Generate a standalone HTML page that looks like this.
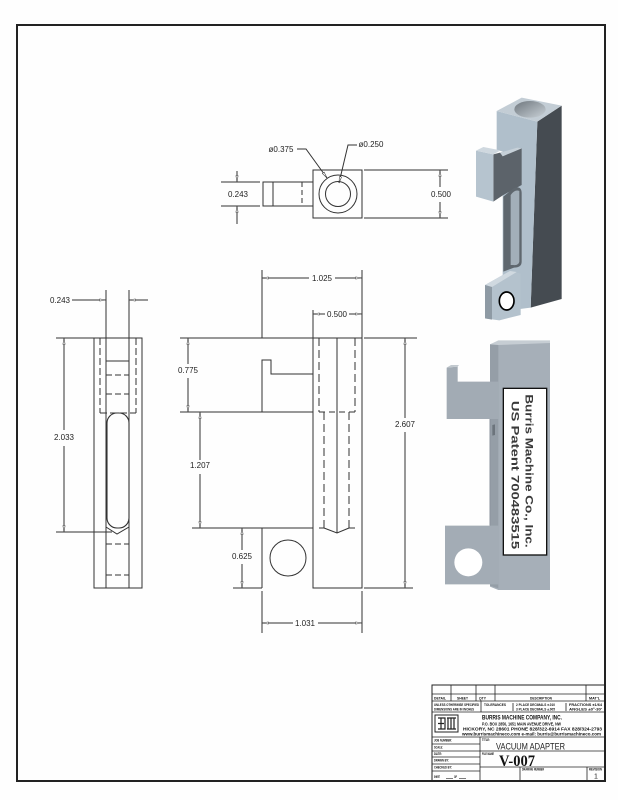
<!DOCTYPE html>
<html>
<head>
<meta charset="utf-8">
<style>
html,body{margin:0;padding:0;background:#fefefe;}
svg{display:block;}
text{font-family:"Liberation Sans",sans-serif;}
</style>
</head>
<body>
<svg width="618" height="800" viewBox="0 0 618 800" xmlns="http://www.w3.org/2000/svg">
<defs>
<marker id="a" viewBox="0 0 8 4" refX="8" refY="2" markerWidth="7" markerHeight="3.2" markerUnits="userSpaceOnUse" orient="auto-start-reverse">
<path d="M0,0.6 L8,2 L0,3.4 Z" fill="#fff" stroke="#333" stroke-width="0.7"/>
</marker>
<linearGradient id="hole1" x1="0" y1="0" x2="1" y2="1">
<stop offset="0" stop-color="#6f777e"/><stop offset="1" stop-color="#c9d1d7"/>
</linearGradient>
</defs>
<rect x="0" y="0" width="618" height="800" fill="#fefefe"/>

<!-- Border -->
<rect x="17" y="25" width="588" height="756" fill="none" stroke="#222" stroke-width="2"/>

<!-- ============ TOP VIEW ============ -->
<g stroke="#333" stroke-width="1" fill="none">
<rect x="313" y="170" width="49" height="48"/>
<circle cx="338" cy="194" r="19"/>
<circle cx="338" cy="194" r="12.5"/>
<rect x="263" y="182" width="50" height="24"/>
<line x1="273" y1="182" x2="273" y2="206"/>
<line x1="302" y1="182" x2="302" y2="206" stroke-dasharray="5,3"/>
<line x1="221" y1="182" x2="260" y2="182"/>
<line x1="221" y1="206" x2="260" y2="206"/>
<line x1="364" y1="170" x2="448" y2="170"/>
<line x1="364" y1="218" x2="448" y2="218"/>
<line x1="237" y1="171" x2="237" y2="182" marker-end="url(#a)"/>
<line x1="237" y1="224" x2="237" y2="206" marker-end="url(#a)"/>
<line x1="440" y1="187" x2="440" y2="170" marker-end="url(#a)"/>
<line x1="440" y1="202" x2="440" y2="218" marker-end="url(#a)"/>
<polyline points="297,149 306,149 327,178" marker-end="url(#a)"/>
<polyline points="357,145 348,145 339,183" marker-end="url(#a)"/>
</g>
<g font-size="8" fill="#222" text-anchor="middle">
<text x="238" y="197">0.243</text>
<text x="441" y="197">0.500</text>
<text x="281" y="152">ø0.375</text>
<text x="371" y="147">ø0.250</text>
</g>

<!-- ============ LEFT VIEW ============ -->
<g stroke="#333" stroke-width="1" fill="none">
<rect x="94" y="338" width="48" height="250"/>
<line x1="106" y1="290" x2="106" y2="588"/>
<line x1="129" y1="290" x2="129" y2="588"/>
<line x1="100" y1="338" x2="100" y2="413" stroke-dasharray="7,3"/>
<line x1="136" y1="338" x2="136" y2="413" stroke-dasharray="7,3"/>
<line x1="100" y1="413" x2="136" y2="413" stroke-dasharray="7,3"/>
<line x1="106" y1="361" x2="129" y2="361"/>
<line x1="106" y1="375" x2="129" y2="375" stroke-dasharray="6,3"/>
<line x1="106" y1="394" x2="129" y2="394" stroke-dasharray="6,3"/>
<rect x="107" y="413" width="22" height="115" rx="10" ry="10" stroke-width="1.1"/>
<polyline points="106,527 117,534 129,527"/>
<line x1="106" y1="544" x2="129" y2="544" stroke-dasharray="6,3"/>
<line x1="106" y1="575" x2="129" y2="575" stroke-dasharray="6,3"/>
<line x1="56" y1="338" x2="94" y2="338"/>
<line x1="56" y1="532" x2="112" y2="532"/>
<line x1="72" y1="300" x2="106" y2="300" marker-end="url(#a)"/>
<line x1="148" y1="300" x2="129" y2="300" marker-end="url(#a)"/>
<line x1="64" y1="430" x2="64" y2="338" marker-end="url(#a)"/>
<line x1="64" y1="446" x2="64" y2="532" marker-end="url(#a)"/>
</g>
<g font-size="8" fill="#222" text-anchor="middle">
<text x="60" y="303">0.243</text>
<text x="64" y="440">2.033</text>
</g>

<!-- ============ FRONT VIEW ============ -->
<g stroke="#333" stroke-width="1" fill="none">
<rect x="313" y="338" width="49" height="250"/>
<line x1="180" y1="338" x2="313" y2="338"/>
<line x1="364" y1="338" x2="417" y2="338"/>
<polyline points="262,412 262,360 271,360 271,374 313,374"/>
<line x1="180" y1="412" x2="313" y2="412"/>
<line x1="192" y1="528" x2="313" y2="528"/>
<line x1="262" y1="528" x2="262" y2="588"/>
<line x1="233" y1="588" x2="262" y2="588"/>
<line x1="364" y1="588" x2="413" y2="588"/>
<circle cx="288" cy="558" r="18"/>
<line x1="337" y1="338" x2="337" y2="533"/>
<line x1="319" y1="338" x2="319" y2="412" stroke-dasharray="8,4"/>
<line x1="355" y1="338" x2="355" y2="412" stroke-dasharray="8,4"/>
<line x1="319" y1="412" x2="355" y2="412" stroke-dasharray="6,4"/>
<line x1="324" y1="412" x2="324" y2="528" stroke-dasharray="8,4"/>
<line x1="349" y1="412" x2="349" y2="528" stroke-dasharray="8,4"/>
<polyline points="324,528 337,533 349,528"/>
<line x1="319" y1="528" x2="324" y2="528"/>
<line x1="349" y1="528" x2="355" y2="528"/>
<line x1="262" y1="270" x2="262" y2="338"/>
<line x1="362" y1="270" x2="362" y2="338"/>
<line x1="313" y1="310" x2="313" y2="338"/>
<line x1="262" y1="591" x2="262" y2="633"/>
<line x1="362" y1="591" x2="362" y2="633"/>
<line x1="309" y1="278" x2="262" y2="278" marker-end="url(#a)"/>
<line x1="335" y1="278" x2="362" y2="278" marker-end="url(#a)"/>
<line x1="325" y1="314" x2="313" y2="314" marker-end="url(#a)"/>
<line x1="349" y1="314" x2="362" y2="314" marker-end="url(#a)"/>
<line x1="188" y1="364" x2="188" y2="338" marker-end="url(#a)"/>
<line x1="188" y1="378" x2="188" y2="412" marker-end="url(#a)"/>
<line x1="200" y1="460" x2="200" y2="412" marker-end="url(#a)"/>
<line x1="200" y1="474" x2="200" y2="528" marker-end="url(#a)"/>
<line x1="242" y1="550" x2="242" y2="528" marker-end="url(#a)"/>
<line x1="242" y1="564" x2="242" y2="588" marker-end="url(#a)"/>
<line x1="405" y1="418" x2="405" y2="338" marker-end="url(#a)"/>
<line x1="405" y1="432" x2="405" y2="588" marker-end="url(#a)"/>
<line x1="293" y1="623" x2="262" y2="623" marker-end="url(#a)"/>
<line x1="318" y1="623" x2="362" y2="623" marker-end="url(#a)"/>
</g>
<g font-size="8" fill="#222" text-anchor="middle">
<text x="322" y="281">1.025</text>
<text x="337" y="317">0.500</text>
<text x="188" y="373">0.775</text>
<text x="405" y="427">2.607</text>
<text x="200" y="468">1.207</text>
<text x="242" y="559">0.625</text>
<text x="305" y="626">1.031</text>
</g>

<!-- ============ ISO VIEW 1 ============ -->
<g transform="translate(460,85) scale(0.33333)">
<polygon points="232,110 305,62 305,642 212,668" fill="#454b51"/>
<polygon points="110,78 232,110 212,668 180,672 128,650 128,200 110,195" fill="#b0bfcb"/>
<polygon points="110,78 185,38 305,62 232,110" fill="#c3cdd5"/>
<ellipse cx="210" cy="73" rx="47" ry="25" fill="url(#hole1)"/>
<polygon points="100,208 120,203 185,190 185,300 130,330 100,350" fill="#5c636a"/>
<polygon points="120,203 172,188 185,190 128,214" fill="#c6d0d8"/>
<polygon points="48,197 100,208 100,350 48,335" fill="#b6c4cf"/>
<polygon points="48,197 70,186 122,196 100,208" fill="#cfd8df"/>
<path d="M130,335 L160,310 Q185,300 185,325 L185,530 Q185,548 162,548 L130,560 Z" fill="#5f676e"/>
<path d="M152,330 Q165,312 178,318 L178,530 Q176,542 160,540 L152,540 Z" fill="#a3afb9"/>
<polygon points="75,600 150,558 182,566 182,690 118,706 75,700" fill="#b4c2cd"/>
<polygon points="75,600 150,558 170,561 96,606" fill="#d0d9e0"/>
<polygon points="75,600 96,606 96,704 75,700" fill="#8e9aa4"/>
<ellipse cx="140" cy="648" rx="22" ry="27" fill="#fff" stroke="#000" stroke-width="5"/>
</g>

<!-- ============ ISO VIEW 2 ============ -->
<g transform="translate(435,335) scale(0.33333)">
<polygon points="165,28 190,18 345,18 345,765 190,765 165,755" fill="#a6afb8"/>
<polygon points="165,28 190,22 190,760 165,752" fill="#959ea7"/>
<polygon points="165,28 190,16 345,16 345,24 190,30" fill="#c6cdd3"/>
<polygon points="35,98 68,95 68,140 190,140 190,252 35,252" fill="#a2abb4"/>
<polygon points="35,98 48,90 72,90 68,95" fill="#c2c9cf"/>
<polygon points="30,572 190,572 190,748 30,748" fill="#a3acb5"/>
<line x1="165" y1="252" x2="165" y2="572" stroke="#8a939c" stroke-width="3"/>
<circle cx="100" cy="682" r="42" fill="#fff"/>
<path d="M172,270 L180,268 L180,300 L172,302 Z" fill="#6c747c"/>
<rect x="205" y="160" width="130" height="500" fill="#fff" stroke="#111" stroke-width="4"/>
<text x="283" y="408" font-size="32" font-weight="bold" fill="#3a3a3a" text-anchor="middle" dy="11" transform="rotate(90 283 408)" textLength="460" lengthAdjust="spacingAndGlyphs">Burris Machine Co., Inc.</text>
<text x="240" y="420" font-size="32" font-weight="bold" fill="#3a3a3a" text-anchor="middle" dy="11" transform="rotate(90 240 420)" textLength="445" lengthAdjust="spacingAndGlyphs">US Patent 700483515</text>
</g>

<!-- ============ TITLE BLOCK ============ -->
<g stroke="#222" stroke-width="0.8" fill="none">
<rect x="432" y="685" width="173" height="96" stroke-width="1"/>
<line x1="432" y1="694" x2="605" y2="694"/>
<line x1="432" y1="701" x2="605" y2="701"/>
<line x1="432" y1="712" x2="605" y2="712"/>
<line x1="432" y1="737" x2="605" y2="737"/>
<line x1="451" y1="685" x2="451" y2="701"/>
<line x1="476" y1="685" x2="476" y2="701"/>
<line x1="495" y1="685" x2="495" y2="701"/>
<line x1="586" y1="685" x2="586" y2="701"/>
<line x1="481" y1="701" x2="481" y2="712"/>
<line x1="513" y1="703" x2="513" y2="711"/>
<line x1="566" y1="703" x2="566" y2="711"/>
<line x1="480" y1="737" x2="480" y2="781"/>
<line x1="432" y1="744" x2="480" y2="744"/>
<line x1="432" y1="751" x2="605" y2="751"/>
<line x1="432" y1="757" x2="480" y2="757"/>
<line x1="432" y1="764" x2="480" y2="764"/>
<line x1="432" y1="771" x2="480" y2="771"/>
<line x1="480" y1="767" x2="605" y2="767"/>
<line x1="520" y1="767" x2="520" y2="781"/>
<line x1="587" y1="767" x2="587" y2="781"/>
<rect x="435" y="715" width="23" height="17" stroke-width="1"/>
<path d="M438,718 L445,718 L445,729 L438,729 M441,718 L441,729 M438,723.5 L444,723.5" stroke-width="1.2"/>
<path d="M448,718 L448,729 M451,718 L451,729 M454,718 L454,729 M447,718 L456,718 M447,729 L456,729" stroke-width="1.2"/>
<line x1="446" y1="778.5" x2="453" y2="778.5" stroke-width="0.6"/>
<line x1="459" y1="778.5" x2="466" y2="778.5" stroke-width="0.6"/>
</g>
<g fill="#111" font-weight="bold" font-size="3.6">
<text x="434" y="699.5" textLength="12" lengthAdjust="spacingAndGlyphs">DETAIL</text>
<text x="457" y="699.5" textLength="11" lengthAdjust="spacingAndGlyphs">SHEET</text>
<text x="479" y="699.5" textLength="7" lengthAdjust="spacingAndGlyphs">QTY</text>
<text x="530" y="699.5" textLength="22" lengthAdjust="spacingAndGlyphs">DESCRIPTION</text>
<text x="589" y="699.5" textLength="11" lengthAdjust="spacingAndGlyphs">MAT'L</text>
<text x="434" y="706" textLength="45" lengthAdjust="spacingAndGlyphs">UNLESS OTHERWISE SPECIFIED</text>
<text x="434" y="710.5" textLength="40" lengthAdjust="spacingAndGlyphs">DIMENSIONS ARE IN INCHES</text>
<text x="484" y="706" textLength="22" lengthAdjust="spacingAndGlyphs">TOLERANCES</text>
<text x="516" y="706" textLength="39" lengthAdjust="spacingAndGlyphs">2 PLACE DECIMALS ±.010</text>
<text x="516" y="710.5" textLength="39" lengthAdjust="spacingAndGlyphs">3 PLACE DECIMALS ±.005</text>
<text x="569" y="706" textLength="33" lengthAdjust="spacingAndGlyphs">FRACTIONS ±1/64</text>
<text x="569" y="710.5" textLength="33" lengthAdjust="spacingAndGlyphs">ANGLES ±0°-30'</text>
<text x="434" y="741.5" textLength="18" lengthAdjust="spacingAndGlyphs">JOB NUMBER:</text>
<text x="434" y="748.5" textLength="9" lengthAdjust="spacingAndGlyphs">SCALE:</text>
<text x="434" y="755" textLength="8" lengthAdjust="spacingAndGlyphs">DATE:</text>
<text x="434" y="761.5" textLength="15" lengthAdjust="spacingAndGlyphs">DRAWN BY:</text>
<text x="434" y="768.5" textLength="18" lengthAdjust="spacingAndGlyphs">CHECKED BY:</text>
<text x="434" y="778" textLength="6" lengthAdjust="spacingAndGlyphs">SHEET</text>
<text x="454" y="778" textLength="3" lengthAdjust="spacingAndGlyphs">OF</text>
<text x="482" y="741" textLength="8" lengthAdjust="spacingAndGlyphs">TITLE:</text>
<text x="482" y="755" textLength="12" lengthAdjust="spacingAndGlyphs">FILE NAME</text>
<text x="522" y="770.5" textLength="22" lengthAdjust="spacingAndGlyphs">DRAWING NUMBER</text>
<text x="589" y="770.5" textLength="13" lengthAdjust="spacingAndGlyphs">REVISION</text>
<text x="482" y="719.5" font-size="6" textLength="80" lengthAdjust="spacingAndGlyphs">BURRIS MACHINE COMPANY, INC.</text>
<text x="482" y="725.3" font-size="4.4" textLength="79" lengthAdjust="spacingAndGlyphs">P.O. BOX 2856, 1651 MAIN AVENUE DRIVE, NW</text>
<text x="463" y="730.5" font-size="4.4" textLength="139" lengthAdjust="spacingAndGlyphs">HICKORY, NC 28601   PHONE 828/322-6914   FAX 828/324-2793</text>
<text x="462" y="735.3" font-size="4.2" textLength="139" lengthAdjust="spacingAndGlyphs">www.burrismachineco.com      e-mail: burris@burrismachineco.com</text>
</g>
<text x="496" y="749.5" font-size="9.5" fill="#222" textLength="69" lengthAdjust="spacingAndGlyphs">VACUUM ADAPTER</text>
<text x="499" y="766" font-size="16" font-weight="bold" fill="#111" style="font-family:'Liberation Serif',serif" textLength="36" lengthAdjust="spacingAndGlyphs">V-007</text>
<text x="596" y="778.5" font-size="7" fill="#222" text-anchor="middle">1</text>
</svg>
</body>
</html>
